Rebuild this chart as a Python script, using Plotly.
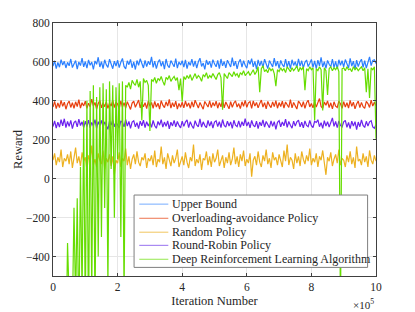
import plotly.graph_objects as go

step = 5000
n_points = 201
iterations = [i * step for i in range(n_points)]

upper_bound = [
    578, 606, 566, 597, 573, 612, 584, 603, 569, 598, 580, 615, 571, 594, 607, 563, 600, 581, 620, 575,
    602, 568, 610, 583, 599, 562, 605, 588, 624, 574, 601, 566, 611, 585, 572, 614, 590, 565, 604, 579,
    609, 571, 598, 618, 577, 564, 606, 586, 613, 570, 600, 561, 607, 583, 616, 589, 569, 608, 576, 603,
    585, 626, 572, 604, 566, 598, 612, 578, 603, 563, 615, 582, 571, 607, 590, 575, 617, 568, 600, 584,
    606, 573, 611, 565, 599, 583, 614, 576, 605, 568, 601, 619, 577, 594, 562, 610, 585, 603, 571, 612,
    590, 575, 608, 566, 615, 580, 602, 569, 609, 587, 574, 622, 579, 604, 564, 599, 613, 573, 606, 583,
    568, 609, 588, 617, 575, 603, 563, 611, 580, 605, 571, 614, 584, 566, 607, 592, 574, 620, 579, 604,
    567, 608, 586, 575, 614, 573, 604, 565, 611, 582, 601, 570, 616, 578, 606, 569, 598, 610, 576, 593,
    613, 572, 605, 566, 609, 580, 623, 574, 601, 567, 608, 588, 575, 615, 571, 603, 564, 611, 583, 606,
    574, 612, 587, 569, 618, 579, 604, 562, 609, 576, 600, 614, 572, 607, 568, 598, 626, 581, 608, 611,
    592,
]

overloading_avoidance = [
    368, 397, 360, 389, 365, 402, 372, 393, 357, 385, 399, 366, 391, 362, 395, 371, 406, 363, 390, 374,
    398, 361, 388, 369, 409, 373, 392, 358, 386, 401, 364, 390, 370, 396, 361, 388, 373, 403, 366, 394,
    383, 359, 400, 368, 391, 363, 396, 374, 356, 389, 398, 367, 385, 404, 364, 393, 370, 391, 360, 399,
    372, 392, 362, 397, 368, 388, 358, 401, 378, 365, 395, 373, 407, 363, 390, 369, 398, 357, 387, 367,
    393, 364, 399, 371, 389, 361, 396, 368, 403, 377, 363, 392, 372, 357, 397, 385, 368, 400, 365, 391,
    373, 398, 362, 391, 369, 408, 364, 394, 377, 359, 396, 367, 389, 400, 368, 386, 360, 395, 372, 402,
    367, 390, 396, 361, 400, 373, 392, 364, 387, 404, 368, 391, 359, 397, 378, 365, 395, 370, 401, 362,
    391, 371, 398, 363, 394, 376, 366, 406, 364, 392, 372, 358, 399, 387, 368, 396, 361, 390, 403, 369,
    386, 364, 397, 368, 391, 412, 371, 361, 394, 377, 400, 365, 390, 359, 395, 373, 366, 398, 385, 362,
    396, 368, 390, 363, 402, 372, 393, 359, 384, 399, 365, 392, 370, 361, 397, 386, 366, 404, 373, 393,
    375,
]

random_policy = [
    95, 130, 70, 110, 85, 150, 60, 105, 90, 125, 75, 140, 55, 100, 160, 80, 115, 65, 135, 90,
    110, 45, 120, 85, 170, 70, 100, 60, 130, 95, 75, 145, 50, 105, 85, 125, 65, 115, 20, 95,
    80, 135, 60, 105, 90, 155, 70, 115, 50, 100, 125, 75, 140, 85, 65, 110, 95, 130, 55, 105,
    90, 120, 70, 145, 60, 100, 85, 165, 75, 110, 50, 130, 95, 65, 120, 80, 105, 150, 60, 95,
    115, 70, 135, 85, 55, 110, 90, 175, 65, 100, 80, 125, 45, 105, 95, 140, 70, 115, 60, 130,
    85, 105, 150, 65, 95, 120, 55, 110, 80, 135, 70, 100, 160, 75, 115, 60, 125, 90, 145, 65,
    100, 80, 130, 10, 95, 115, 70, 140, 85, 60, 120, 90, 150, 75, 105, 55, 135, 95, 110, 70,
    125, 85, 60, 145, 90, 175, 70, 110, 95, 50, 130, 80, 115, 65, 140, 100, 75, 120, 90, 155,
    70, 105, 85, 130, 60, 115, 95, 145, 75, 20, 110, 90, 135, 65, 100, 125, 80, 150, 70, 105,
    95, 60, 120, 85, 140, 75, 110, 55, 165, 90, 100, 70, 130, 85, 115, 60, 145, 95, 75, 120,
    90,
]

round_robin = [
    268, 297, 260, 291, 265, 303, 272, 308, 262, 294, 269, 300, 257, 288, 297, 266, 306, 273, 292, 262,
    295, 268, 301, 261, 289, 271, 304, 258, 293, 272, 299, 264, 292, 270, 254, 296, 275, 302, 267, 290,
    273, 261, 297, 289, 266, 305, 270, 294, 259, 291, 298, 267, 288, 257, 296, 272, 301, 263, 293, 270,
    292, 264, 299, 272, 259, 294, 275, 303, 265, 291, 269, 297, 256, 290, 271, 300, 266, 294, 274, 261,
    296, 269, 291, 302, 262, 293, 272, 258, 298, 276, 267, 307, 265, 292, 273, 263, 299, 270, 294, 260,
    291, 298, 268, 293, 263, 304, 274, 265, 296, 271, 292, 259, 300, 275, 267, 297, 264, 293, 272, 308,
    270, 292, 261, 299, 275, 266, 296, 257, 291, 272, 302, 265, 294, 273, 262, 297, 269, 293, 254, 290,
    298, 267, 292, 272, 306, 264, 294, 275, 260, 296, 270, 292, 301, 266, 290, 261, 297, 274, 267, 299,
    272, 263, 295, 289, 303, 267, 288, 259, 298, 270, 293, 265, 291, 312, 269, 294, 262, 297, 274, 266,
    292, 300, 264, 289, 257, 296, 271, 293, 252, 291, 267, 302, 274, 263, 295, 270, 292, 298, 266, 259,
    278,
]

drl = [
    -900, -900, -900, -900, -900, -900, -900, -900, -900, -330, -800, -900, -700, -150, -650, -100, -800, 60, -600, 300,
    -700, 400, -800, 450, -600, 480, -700, 420, -400, 470, -300, 490, -150, 460, -550, 500, 50, 480, -200, 470,
    100, 490, -300, 500, -600, 480, 470, 495, 460, 505, 490, 480, 510, 470, 500, 300, 515, 495, 505, 480,
    245, 510, 500, 520, 490, 515, 505, 525, 500, 480, 520, 510, 530, 500, 515, 525, 505, 520, 455, 515,
    395, 525, 510, 530, 515, 535, 505, 525, 540, 515, 530, 520, 500, 535, 525, 545, 515, 530, 520, 540,
    525, 510, 535, 545, 520, 355, 540, 530, 515, 545, 535, 525, 550, 530, 540, 520, 545, 535, 555, 530,
    540, 550, 530, 545, 560, 535, 550, 575, 445, 565, 580, 550, 560, 545, 570, 555, 565, 540, 475, 560,
    550, 570, 555, 565, 545, 575, 560, 550, 570, 555, 565, 580, 550, 570, 560, 575, 455, 565, 555, 575,
    560, 570, 300, 565, 555, 575, 560, 350, 570, 555, 430, 565, 575, 555, 570, 560, 575, 550, -700, 565,
    570, 555, 575, 560, 565, 550, 575, 560, 570, 555, 565, 575, 555, 570, 445, 565, 415, 570, 560, 575,
    205,
]

series_names = [
    "Upper Bound",
    "Overloading-avoidance Policy",
    "Random Policy",
    "Round-Robin Policy",
    "Deep Reinforcement Learning Algorithm",
]
series_values = [upper_bound, overloading_avoidance, random_policy, round_robin, drl]
series_colors = ["#2a7fff", "#e8400f", "#edb120", "#6b22ee", "#66dd00"]
legend_colors = ["#8cbaff", "#f08a6c", "#f3cf78", "#a98af2", "#a6ec6a"]

x_tick_vals = [0, 200000, 400000, 600000, 800000, 1000000]
x_tick_text = ["0", "2", "4", "6", "8", "10"]
y_tick_vals = [-400, -200, 0, 200, 400, 600, 800]

font_family = "Liberation Serif, Times New Roman, Times, serif"
text_color = "#262626"

fig = go.Figure()
for name, vals, col in zip(series_names, series_values, series_colors):
    fig.add_trace(go.Scatter(
        x=iterations, y=vals, mode="lines", name=name,
        line=dict(color=col, width=1.2), showlegend=False,
    ))

axis_common = dict(
    showline=True, linecolor="#404040", linewidth=1, mirror="ticks",
    ticks="inside", ticklen=3, tickcolor="#404040",
    showgrid=True, gridcolor="#e6e6e6", gridwidth=1,
    zeroline=False, automargin=False,
    tickfont=dict(family=font_family, size=11.5, color=text_color),
)

# manual legend (compact, MATLAB style)
leg_x0, leg_x1 = 0.251, 0.974
leg_y0, leg_y1 = 0.034, 0.320
row_y = [0.284, 0.228, 0.173, 0.121, 0.066]
shapes = [dict(type="rect", xref="paper", yref="paper", x0=leg_x0, x1=leg_x1,
               y0=leg_y0, y1=leg_y1, line=dict(color="#7f7f7f", width=1),
               fillcolor="white", layer="above")]
annotations = []
for name, col, yy in zip(series_names, legend_colors, row_y):
    shapes.append(dict(type="line", xref="paper", yref="paper", x0=0.267, x1=0.357,
                       y0=yy, y1=yy, line=dict(color=col, width=1.2), layer="above"))
    annotations.append(dict(text=name, xref="paper", yref="paper", x=0.362, y=yy,
                            xanchor="left", yanchor="middle", showarrow=False,
                            font=dict(family=font_family, size=12, color=text_color)))

annotations.append(dict(text="×10<sup>5</sup>", xref="paper", yref="paper", x=1.0, y=-0.075,
                        xanchor="right", yanchor="top", showarrow=False,
                        font=dict(family=font_family, size=11, color=text_color)))

fig.update_layout(
    width=415, height=312,
    margin=dict(l=53, r=39, t=23, b=36, autoexpand=False),
    paper_bgcolor="white", plot_bgcolor="white",
    font=dict(family=font_family, size=11.5, color=text_color),
    showlegend=False,
    xaxis=dict(
        range=[0, 1000000], tickvals=x_tick_vals, ticktext=x_tick_text,
        title=dict(text="Iteration Number", font=dict(family=font_family, size=12.5), standoff=4),
        **axis_common,
    ),
    yaxis=dict(
        range=[-500, 800], tickvals=y_tick_vals,
        title=dict(text="Reward", font=dict(family=font_family, size=12.5), standoff=0),
        **axis_common,
    ),
    shapes=shapes,
    annotations=annotations,
)

fig.write_html(
    "out.html",
    config={"displayModeBar": False},
    post_script="document.body.style.margin='0';document.body.style.padding='0';",
)
